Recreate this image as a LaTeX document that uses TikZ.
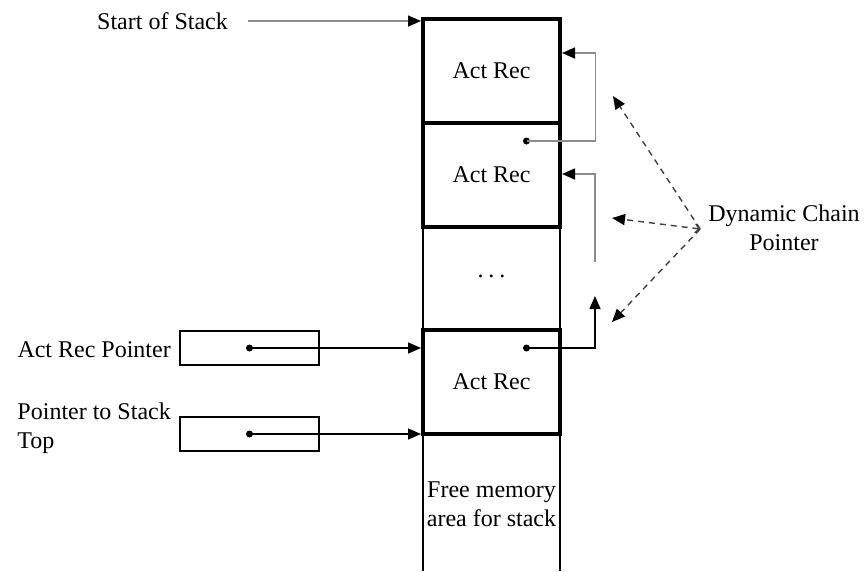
\documentclass[tikz,border=0pt]{standalone}
\usepackage{fontspec}
\setmainfont{Liberation Serif}
\usetikzlibrary{arrows.meta,positioning,calc}
\definecolor{linkgray}{HTML}{8C8C8C}
\definecolor{dashgray}{HTML}{404040}

\begin{document}
\begin{tikzpicture}[x=1pt,y=-1pt,font=\fontsize{24}{29}\selectfont,
  actrec/.style={draw,line width=4.5pt,outer sep=0pt,inner sep=0pt,minimum width=137pt,minimum height=104pt},
  ptrbox/.style={draw,line width=1.4pt,outer sep=0pt,inner sep=0pt,minimum width=139pt,minimum height=34pt},
  lbl/.style={inner sep=0pt},
  tip/.style={-{Triangle[length=13pt,width=11pt,color=black]}}]
\useasboundingbox (0,0) rectangle (867,571);
\coordinate (bot) at (0,571);
\node[actrec] (rec1) at (491.5,71) {Act Rec};
\node[actrec,below=0pt of rec1] (rec2) {Act Rec};
\node[actrec] (rec3) at (491.5,382) {Act Rec};
\node[lbl] (gap) at (491.5,276) {.\hspace{5pt}.\hspace{5pt}.};
\node[lbl,align=center] (free) at (491.5,504) {Free memory\\area for stack};
\draw[line width=1.4pt] (rec1.north west) -- (rec1.north west |- bot) (rec1.north east) -- (rec1.north east |- bot);
\node[lbl,anchor=west] (start) at (97,21) {Start of Stack};
\draw[linkgray,line width=1.4pt,tip,shorten >=2pt] ([xshift=20pt]start.east) -- (start.east -| rec1.west);
\node[ptrbox] (arp) at (249.5,348) {};
\node[ptrbox] (pst) at (249.5,434) {};
\node[lbl,left=9pt of arp,yshift=-2pt] (arplbl) {Act Rec Pointer};
\node[lbl,left=9pt of pst,yshift=6pt,align=left] (pstlbl) {Pointer to Stack\\Top};
\foreach \p in {arp,pst}{\fill (\p.center) circle (3.5pt); \draw[line width=1.4pt,tip,shorten >=2pt] (\p.center) -- (\p.center -| rec3.west);}
\coordinate (d2) at ([xshift=35pt,yshift=-18pt]rec2.north);
\coordinate (d3) at ([xshift=35pt,yshift=-18pt]rec3.north);
\coordinate (g2) at (595,262);
\coordinate (up3) at (595,296);
\foreach \d in {d2,d3}{\fill (\d) circle (3.5pt);}
\draw[linkgray,line width=1.6pt,tip,shorten >=2pt] (d2) -- ++(69,0) |- ([yshift=18pt]rec1.east);
\draw[linkgray,line width=1.6pt,tip,shorten >=2pt] (g2) |- ([yshift=1pt]rec2.east);
\draw[line width=1.4pt,tip] (d3) -| (up3);
\node[lbl,align=center] (dcp) at (784,228) {Dynamic Chain\\Pointer};
\coordinate (conv) at ([xshift=-8pt,yshift=-1pt]dcp.west);
\coordinate (c1) at (613,96);
\coordinate (c2) at (612,218);
\coordinate (c3) at (612,322);
\foreach \c in {c1,c3}{\draw[dashgray,line width=1.4pt,dash pattern=on 6pt off 5pt,tip] (conv) -- (\c);}
\draw[dashgray,line width=1.4pt,dash pattern=on 6pt off 5pt,{Straight Barb[length=4pt,width=9pt]}-{Triangle[length=13pt,width=11pt,color=black]}] (conv) -- (c2);
\end{tikzpicture}
\end{document}
